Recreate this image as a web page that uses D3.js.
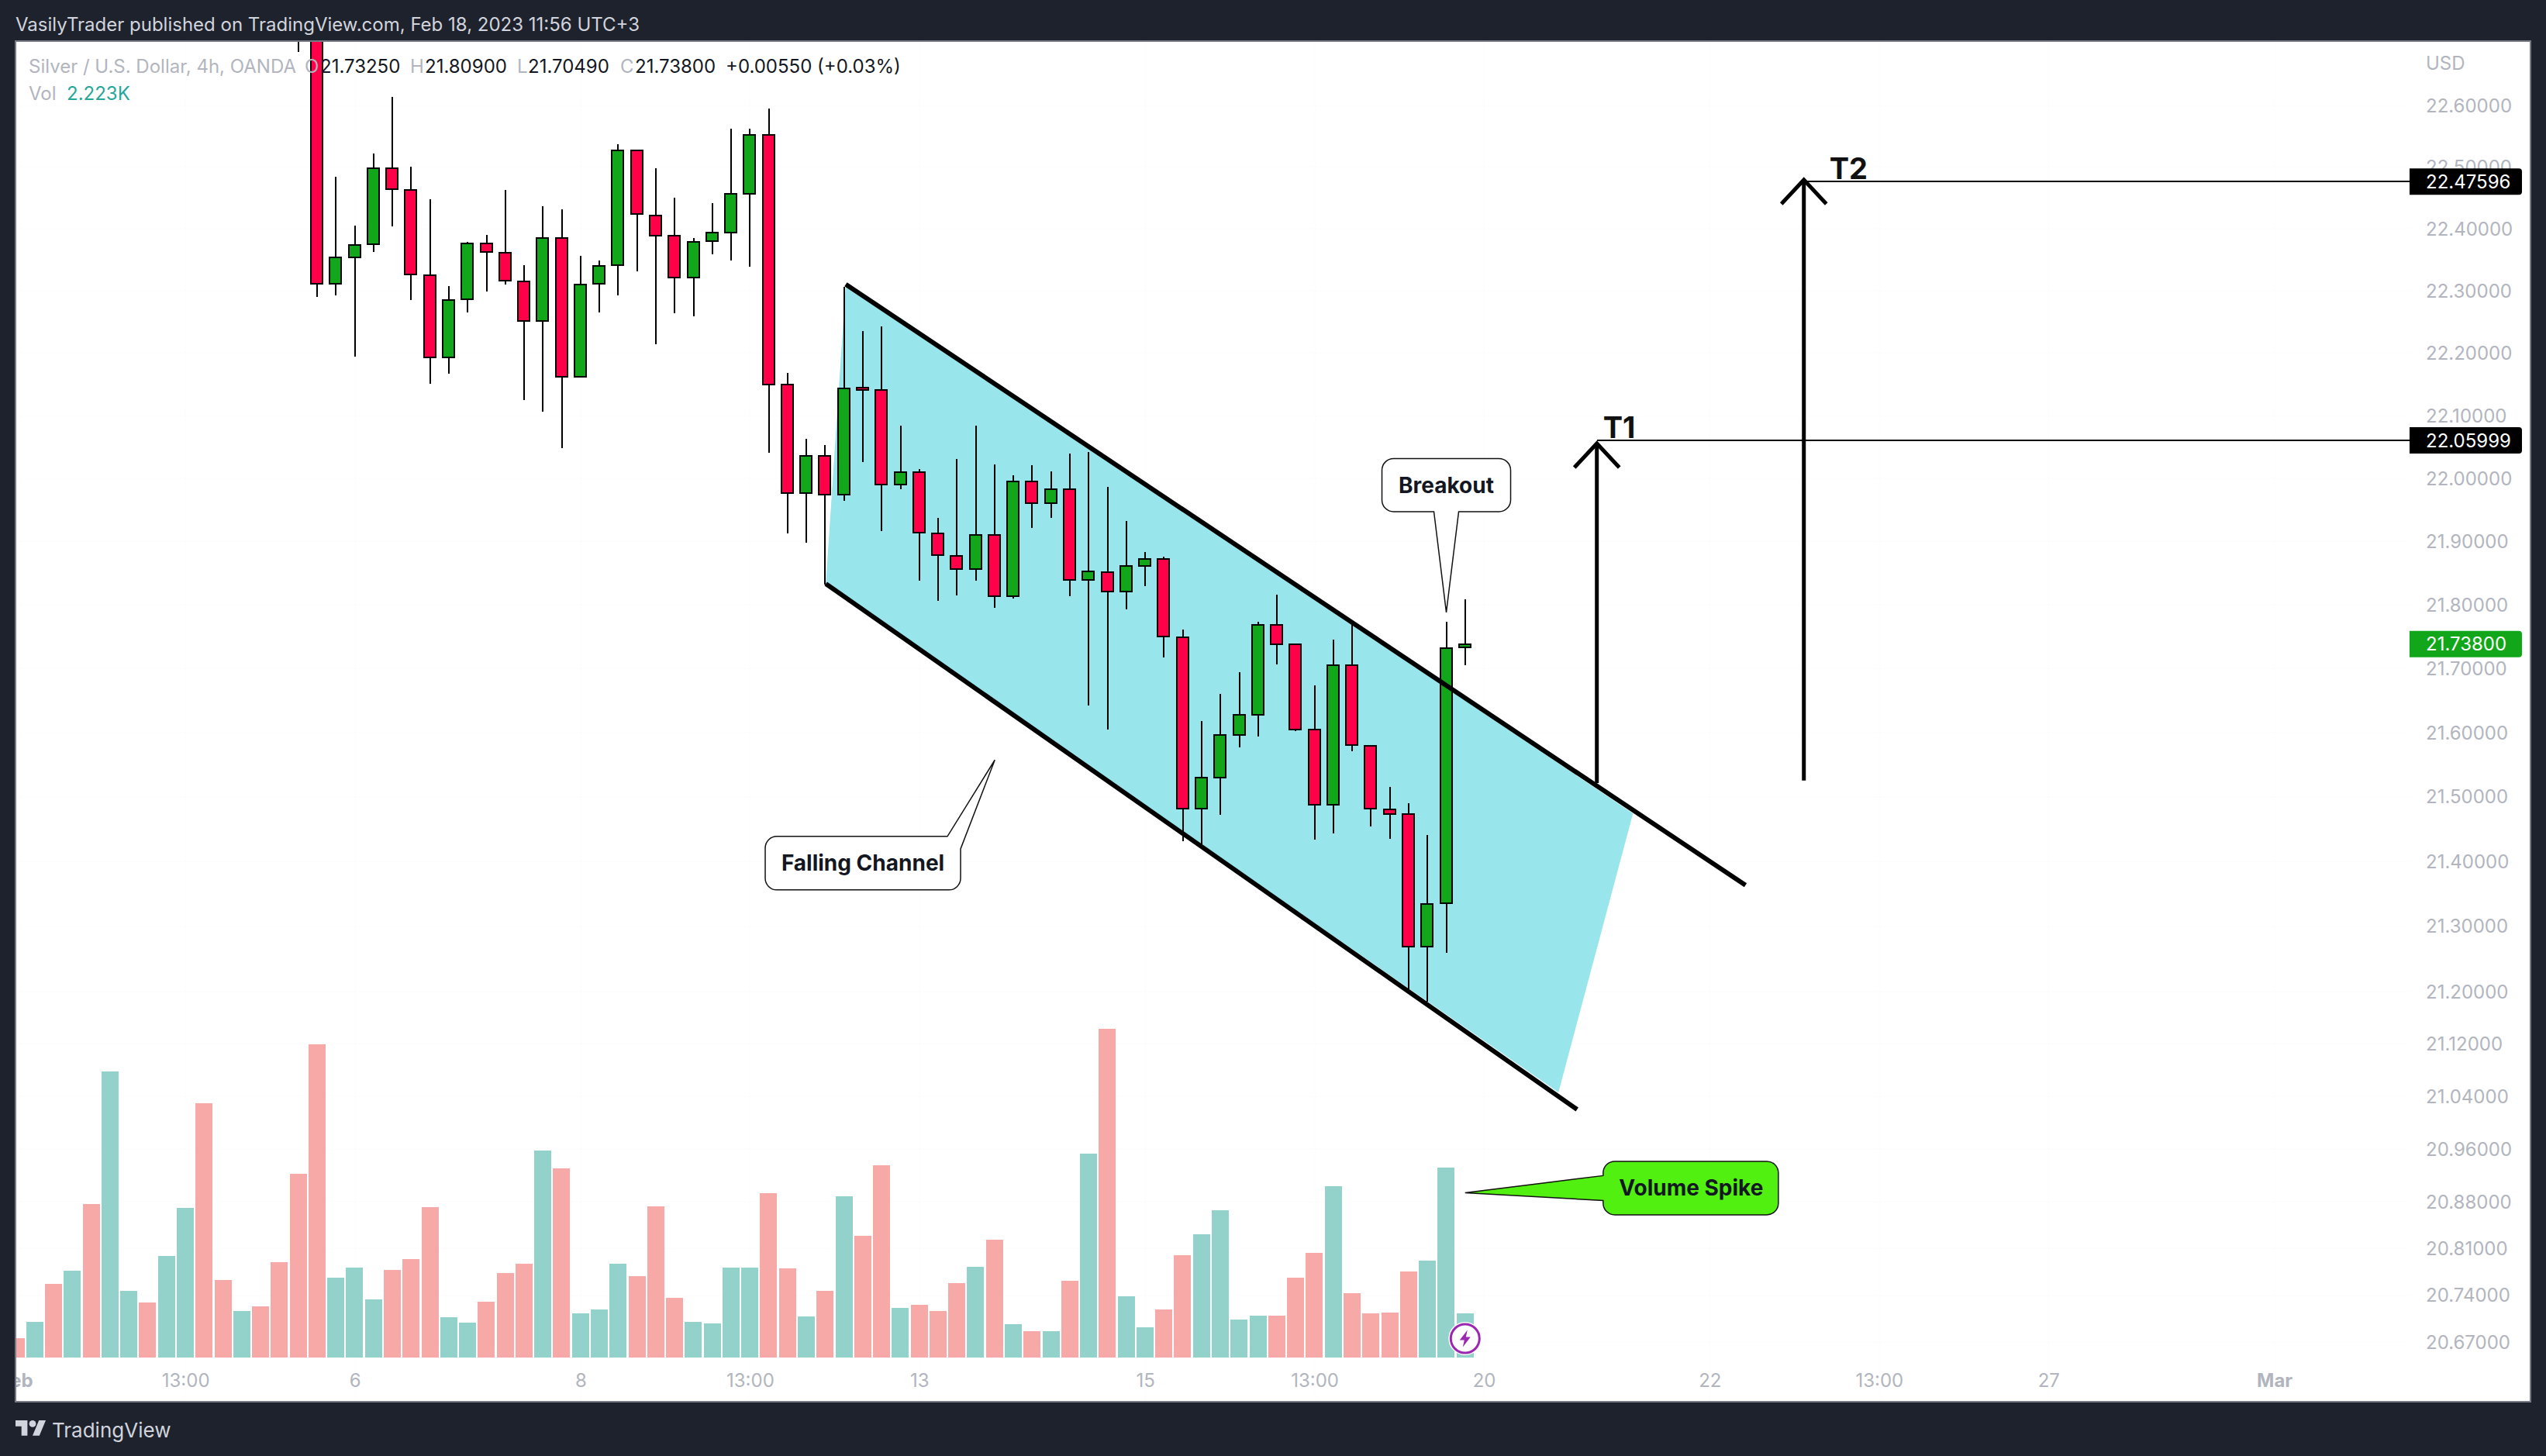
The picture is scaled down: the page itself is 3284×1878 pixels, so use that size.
<!DOCTYPE html>
<html>
<head>
<meta charset="utf-8">
<script src="https://cdn.jsdelivr.net/npm/d3@7/dist/d3.min.js"></script>
<style>
html,body{margin:0;padding:0;background:#1e222d;}
svg{display:block;}
text{font-family:Inter,"Noto Sans",sans-serif;}
</style>
</head>
<body>
<div id="chart"></div>
<script>
// ---- data ----
const firstCandleBar = 15;
const opens  = [22.95,22.76,22.311,22.354,22.375,22.498,22.463,22.325,22.193,22.286,22.376,22.361,22.315,22.251,22.385,22.162,22.311,22.341,22.527,22.421,22.388,22.321,22.380,22.394,22.456,22.552,22.149,21.976,22.036,21.974,22.144,22.140,21.990,22.009,21.913,21.877,21.856,21.910,21.813,21.995,21.960,21.982,21.839,21.851,21.821,21.861,21.872,21.749,21.481,21.530,21.596,21.627,21.768,21.738,21.604,21.487,21.705,21.579,21.480,21.473,21.268,21.335,21.7325];
const highs  = [22.98,22.79,22.484,22.405,22.522,22.614,22.500,22.448,22.307,22.379,22.390,22.462,22.341,22.436,22.431,22.356,22.348,22.537,22.527,22.498,22.450,22.385,22.441,22.562,22.562,22.595,22.168,22.062,22.053,22.306,22.235,22.242,22.084,22.015,21.937,22.031,22.084,22.022,22.005,22.021,22.011,22.039,22.042,21.986,21.932,21.883,21.876,21.761,21.618,21.660,21.694,21.773,21.816,21.738,21.674,21.745,21.770,21.579,21.515,21.490,21.440,21.773,21.809];
const lows   = [22.687,22.290,22.292,22.194,22.362,22.404,22.285,22.150,22.167,22.265,22.299,22.310,22.125,22.106,22.048,22.162,22.265,22.292,22.331,22.214,22.263,22.258,22.359,22.348,22.339,22.040,21.913,21.898,21.832,21.964,22.025,21.916,21.982,21.838,21.806,21.815,21.838,21.795,21.810,21.921,21.937,21.813,21.642,21.605,21.793,21.829,21.717,21.431,21.426,21.472,21.577,21.593,21.706,21.602,21.433,21.443,21.570,21.454,21.435,21.201,21.184,21.259,21.7049];
const closes = [22.76,22.311,22.353,22.374,22.498,22.464,22.326,22.193,22.285,22.376,22.362,22.316,22.251,22.385,22.162,22.310,22.340,22.527,22.423,22.389,22.321,22.379,22.393,22.456,22.552,22.149,21.976,22.036,21.974,22.143,22.141,21.990,22.009,21.914,21.878,21.856,21.910,21.813,21.995,21.960,21.982,21.839,21.852,21.821,21.861,21.872,21.750,21.481,21.530,21.596,21.627,21.768,21.738,21.605,21.487,21.705,21.580,21.481,21.473,21.268,21.334,21.732,21.738];

const volumes = [0.96,1.79,3.72,4.39,7.79,14.49,3.37,2.78,5.14,7.58,12.90,3.92,2.34,2.59,4.82,9.31,15.90,4.04,4.55,2.94,4.43,4.98,7.63,2.03,1.76,2.82,4.27,4.75,10.51,9.59,2.22,2.43,4.75,4.11,7.67,3.01,1.79,1.71,4.55,4.55,8.34,4.50,2.06,3.37,8.18,6.16,9.75,2.50,2.66,2.34,3.76,4.59,5.97,1.67,1.32,1.32,3.88,10.35,16.67,3.09,1.51,2.43,5.19,6.25,7.47,1.90,2.11,2.11,4.04,5.30,8.69,3.25,2.22,2.27,4.36,4.91,9.63,2.223];
const earlyVolumeUp = [0,1,0,1,0,1,1,0,1,1,0,0,1,0,0];

const priceTicks = [22.6,22.5,22.4,22.3,22.2,22.1,22.0,21.9,21.8,21.7,21.6,21.5,21.4,21.3,21.2,21.12,21.04,20.96,20.88,20.81,20.74,20.67];
const timeTickBars = [0,9,18,30,39,48,60,69,78,90,99,108,120];
const timeTickLabels = ["Feb","13:00","6","8","13:00","13","15","13:00","20","22","13:00","27","Mar"];
const boldTimeLabels = ["Feb","Mar"];

const channelTop = [[44.09,22.310],[91.9,21.363]];
const channelBottom = [[43.03,21.833],[82.95,21.020]];
const channelFill = [[44.09,22.310],[85.92,21.474],[81.96,21.046],[43.03,21.833]];
const target1 = {label:"T1", bar:84, price:22.05999, from:21.521, text:"22.05999", tipOffset:4, labelDx:8};
const target2 = {label:"T2", bar:95, price:22.47596, from:21.525, text:"22.47596", tipOffset:-2, labelDx:33};
const lastClose = 21.738;

// ---- layout ----
const W = 3284, H = 1878;
const plot = {l:21, r:3263, t:54, b:1807};
const c = {bg:"#1e222d", up:"#12a71a", down:"#ff0049", volUp:"#93d2cb", volDown:"#f7a9a7", tick:"#b2b5be", channel:"#98e5ec", spike:"#52f010"};

const x = d3.scaleLinear().domain([0,77]).range([20.7,1889.8]);
const y = d3.scaleLog().domain([22.6,20.67]).range([136,1731]);
const yVol = d3.scaleLinear().domain([0,17]).range([1750.5,1318.7]);

const candles = opens.map((o,i)=>({bar:firstCandleBar+i,o,h:highs[i],l:lows[i],c:closes[i]}));
const bars = volumes.map((v,i)=>{
  const up = i<firstCandleBar ? !!earlyVolumeUp[i] : closes[i-firstCandleBar]>=opens[i-firstCandleBar];
  return {bar:i,v,up};
});

const svg = d3.select("#chart").append("svg").attr("width",W).attr("height",H).attr("viewBox",`0 0 ${W} ${H}`);
svg.append("rect").attr("width",W).attr("height",H).attr("fill",c.bg);
svg.append("rect").attr("x",plot.l-1).attr("y",plot.t-1).attr("width",plot.r-plot.l+2).attr("height",plot.b-plot.t+2).attr("fill","#ffffff").attr("stroke","#787b86").attr("stroke-width",2);
svg.append("clipPath").attr("id","plotClip").append("rect").attr("x",plot.l).attr("y",plot.t).attr("width",plot.r-plot.l).attr("height",plot.b-plot.t);

const g = svg.append("g").attr("clip-path","url(#plotClip)");

// grid (very faint, as in the source)
g.append("g").selectAll("line").data(priceTicks).join("line")
  .attr("x1",plot.l).attr("x2",3108).attr("y1",d=>Math.round(y(d))).attr("y2",d=>Math.round(y(d))).attr("stroke","#fcfcfd");
g.append("g").selectAll("line").data(timeTickBars).join("line")
  .attr("x1",d=>Math.round(x(d))).attr("x2",d=>Math.round(x(d))).attr("y1",plot.t).attr("y2",plot.b).attr("stroke","#fcfcfd");

// volume
g.append("g").attr("shape-rendering","crispEdges").selectAll("rect").data(bars).join("rect")
  .attr("x",d=>Math.round(x(d.bar)-11.2)).attr("width",22)
  .attr("y",d=>yVol(d.v)).attr("height",d=>yVol(0)-yVol(d.v))
  .attr("fill",d=>d.up?c.volUp:c.volDown);

// channel fill
const toPt = p=>[x(p[0]),y(p[1])];
g.append("path").attr("d",d3.line()(channelFill.map(toPt))+"Z").attr("fill",c.channel);

// candles
const cg = g.append("g").attr("shape-rendering","crispEdges");
cg.selectAll("line").data(candles).join("line")
  .attr("x1",d=>Math.round(x(d.bar))).attr("x2",d=>Math.round(x(d.bar)))
  .attr("y1",d=>y(d.h)).attr("y2",d=>y(d.l)).attr("stroke","#000").attr("stroke-width",2);
cg.selectAll("rect").data(candles).join("rect")
  .attr("x",d=>Math.round(x(d.bar))-8).attr("width",15)
  .attr("y",d=>y(Math.max(d.o,d.c))).attr("height",d=>Math.abs(y(d.o)-y(d.c)))
  .attr("fill",d=>d.c>=d.o?c.up:c.down).attr("stroke","#000").attr("stroke-width",2);

// channel lines
[channelTop,channelBottom].forEach(seg=>{
  g.append("path").attr("d",d3.line()(seg.map(toPt))).attr("fill","none").attr("stroke","#000").attr("stroke-width",6);
});

// callouts
function callout(o){
  const cx=x(o.center[0]), cy=y(o.center[1]), tx=x(o.tip[0]), ty=y(o.tip[1]);
  const w=o.w,h=o.h,r=o.r;
  const L=cx-w/2,R=cx+w/2,T=cy-h/2,B=cy+h/2;
  const p=d3.path();
  p.moveTo(L+r,T);
  if(o.side==="corner"){
    p.lineTo(cx+o.a,T); p.lineTo(tx,ty); p.lineTo(R,cy+o.b);
    p.lineTo(R,B-r); p.arcTo(R,B,R-r,B,r);
  } else {
    p.lineTo(R-r,T); p.arcTo(R,T,R,T+r,r); p.lineTo(R,B-r); p.arcTo(R,B,R-r,B,r);
  }
  if(o.side==="bottom"){ p.lineTo(cx+o.a,B); p.lineTo(tx,ty); p.lineTo(cx-o.a,B); }
  p.lineTo(L+r,B); p.arcTo(L,B,L,B-r,r);
  if(o.side==="left"){ p.lineTo(L,cy+o.a); p.lineTo(tx,ty); p.lineTo(L,cy-o.a); }
  p.lineTo(L,T+r); p.arcTo(L,T,L+r,T,r); p.closePath();
  g.append("path").attr("d",p.toString()).attr("fill",o.fill).attr("stroke","#111").attr("stroke-width",1.5).attr("stroke-linejoin","miter");
  g.append("text").attr("x",cx+(o.dx||0)).attr("y",cy+(o.dy||0)).attr("text-anchor","middle").attr("dominant-baseline","central")
    .attr("font-size",o.size).attr("font-weight",700).attr("fill","#131722").text(o.text);
}
callout({text:"Falling Channel",center:[45.0,21.397],tip:[52.01,21.557],w:252,h:69,r:15,side:"corner",a:109,b:-18.5,fill:"#fff",size:28});
callout({text:"Breakout",center:[76,21.989],tip:[76,21.788],w:166,h:68.5,r:15,side:"bottom",a:16,fill:"#fff",size:28});
callout({text:"Volume Spike",center:[88.99,20.901],tip:[77,20.894],w:226,h:69,r:15,side:"left",a:16,fill:c.spike,size:28,dx:0.5});

// targets
[target1,target2].forEach(t=>{
  const ax=x(t.bar), yLine=Math.round(y(t.price)), yFrom=y(t.from), tipY=yLine+t.tipOffset;
  g.append("line").attr("x1",ax).attr("x2",3108).attr("y1",yLine).attr("y2",yLine).attr("stroke","#000").attr("stroke-width",2).attr("shape-rendering","crispEdges");
  g.append("line").attr("x1",ax).attr("x2",ax).attr("y1",yFrom).attr("y2",tipY).attr("stroke","#000").attr("stroke-width",5);
  g.append("path").attr("d",`M${ax-29},${tipY+31}L${ax},${tipY}L${ax+29},${tipY+31}`).attr("fill","none").attr("stroke","#000").attr("stroke-width",5).attr("stroke-linejoin","miter");
  g.append("text").attr("x",ax+t.labelDx).attr("y",yLine-3).attr("font-size",38).attr("font-weight",700).attr("fill","#111").text(t.label);
});

// lightning marker
const mark = g.append("g").attr("transform",`translate(${x(77)},${yVol(0.945)})`);
mark.append("circle").attr("r",21.5).attr("fill","#fff");
mark.append("circle").attr("r",18.5).attr("fill","#fff").attr("stroke","#9c27b0").attr("stroke-width",3);
mark.append("path").attr("d","M3,-11L-7,2H-1L-3,11L7,-2H1Z").attr("fill","#9c27b0");

// price axis
const axisFont = 24;
const priceAxis = d3.axisRight(y).tickValues(priceTicks).tickSize(0).tickPadding(0).tickFormat(d3.format(".5f"));
const pa = svg.append("g").attr("transform","translate(3129,0)").call(priceAxis);
pa.select(".domain").remove();
pa.selectAll("text").attr("fill",c.tick).attr("font-size",axisFont).attr("font-family","Inter").attr("dy","0.35em").attr("x",0);
svg.append("text").attr("x",3129).attr("y",81).attr("dominant-baseline","central").attr("font-size",axisFont).attr("fill",c.tick).text("USD");

// price tags
function tag(price,fill,label){
  const cy=y(price);
  const p=d3.path(); const L=3108,R=3253,T=cy-17,B=cy+17,r=4;
  p.moveTo(L,T);p.lineTo(R-r,T);p.arcTo(R,T,R,T+r,r);p.lineTo(R,B-r);p.arcTo(R,B,R-r,B,r);p.lineTo(L,B);p.closePath();
  svg.append("path").attr("d",p.toString()).attr("fill",fill);
  svg.append("text").attr("x",3129).attr("y",cy).attr("dy","0.35em").attr("font-size",axisFont).attr("fill","#fff").text(label);
}
tag(target2.price,"#000",target2.text);
tag(target1.price,"#000",target1.text);
tag(lastClose,c.up,d3.format(".5f")(lastClose));

// time axis
const timeAxis = d3.axisBottom(x).tickValues(timeTickBars).tickSize(0).tickPadding(0).tickFormat((d,i)=>timeTickLabels[i]);
const ta = svg.append("g").attr("clip-path","url(#plotClip)").append("g").attr("transform","translate(0,1781)").call(timeAxis);
ta.select(".domain").remove();
ta.selectAll("text").attr("fill",c.tick).attr("font-size",axisFont).attr("font-family","Inter").attr("y",0).attr("dy","0.35em")
  .attr("font-weight",(d,i)=>boldTimeLabels.includes(timeTickLabels[i])?700:400);

// legend
const legendY=85, legendRows=[
  [37,"Silver / U.S. Dollar, 4h, OANDA",c.tick],
  [393,"O",c.tick],[413,"21.73250","#131722"],
  [529,"H",c.tick],[548,"21.80900","#131722"],
  [667,"L",c.tick],[681,"21.70490","#131722"],
  [800,"C",c.tick],[819,"21.73800","#131722"],
  [936,"+0.00550 (+0.03%)","#131722"]
];
legendRows.forEach(r=>svg.append("text").attr("x",r[0]).attr("y",legendY).attr("dominant-baseline","central").attr("font-size",24).attr("fill",r[2]).text(r[1]));
svg.append("text").attr("x",37).attr("y",120).attr("dominant-baseline","central").attr("font-size",24).attr("fill",c.tick).text("Vol");
svg.append("text").attr("x",86).attr("y",120).attr("dominant-baseline","central").attr("font-size",24).attr("fill","#26a69a").text("2.223K");

// header / footer
svg.append("text").attr("x",20).attr("y",31).attr("dominant-baseline","central").attr("font-size",24).attr("fill","#d1d4dc").text("VasilyTrader published on TradingView.com, Feb 18, 2023 11:56 UTC+3");
const logo = svg.append("g").attr("transform","translate(20,1827.6) scale(1.1)").attr("fill","#d1d4dc");
logo.append("path").attr("d","M14 22H7V11H0V4h14v18zM28 22h-8l7.5-18h8L28 22z");
logo.append("circle").attr("cx",20).attr("cy",8).attr("r",4);
svg.append("text").attr("x",67).attr("y",1844).attr("dominant-baseline","central").attr("font-size",26).attr("fill","#d1d4dc").text("TradingView");
</script>
</body>
</html>
